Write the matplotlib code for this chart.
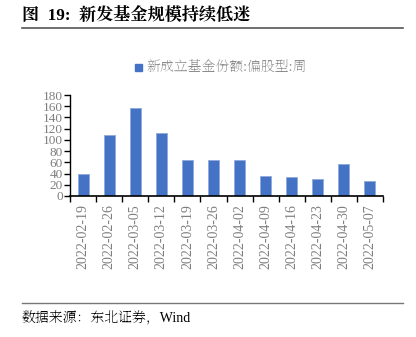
import matplotlib
matplotlib.use("Agg")
import matplotlib.pyplot as plt
from matplotlib.patches import Rectangle
from matplotlib.lines import Line2D

plt.rcParams['font.family'] = ['Liberation Serif', 'Noto Serif SC', 'DejaVu Sans']

categories = ["2022-02-19", "2022-02-26", "2022-03-05", "2022-03-12", "2022-03-19", "2022-03-26",
              "2022-04-02", "2022-04-09", "2022-04-16", "2022-04-23", "2022-04-30", "2022-05-07"]
values = [39, 108, 157, 113, 65, 65, 64, 36, 33, 30, 57, 26]
yticks = [0, 20, 40, 60, 80, 100, 120, 140, 160, 180]
title = "图  19:  新发基金规模持续低迷"
legend_label = "新成立基金份额:偏股型:周"
source = "数据来源：东北证券，Wind"

W, H = 416, 337
fig = plt.figure(figsize=(W/100, H/100), dpi=100)
ax = fig.add_axes([70/W, 1-196/H, (383-70)/W, (196-95)/H])

serif = ['Liberation Serif', 'Noto Serif SC', 'DejaVu Sans']
serif_bold = ['Liberation Serif', 'Noto Serif CJK JP', 'Noto Serif SC', 'DejaVu Sans']
bar_color = "#4472C4"
x = list(range(len(categories)))
ax.bar(x, values, width=0.42, color=bar_color, edgecolor="#8FAADC", linewidth=0.6)
ax.set_xlim(-0.5, len(categories)-0.5)
ax.set_ylim(0, 180)
ax.set_yticks(yticks)
ax.set_yticklabels([str(v) for v in yticks], fontsize=9.5, color="#7f7f7f", family=serif)
ax.set_xticks(x)
ax.set_xticklabels(categories, rotation=90, fontsize=10, color="#7f7f7f", family=serif)
ax.tick_params(axis='x', length=0, pad=6)
ax.set_xticks([i-0.5 for i in range(len(categories)+1)], minor=True)
ax.tick_params(axis='x', which='minor', length=4, width=1, color='black', direction='out')
ax.tick_params(axis='y', length=4, width=1, color='black', direction='out', pad=1)
for s in ['top', 'right']:
    ax.spines[s].set_visible(False)
ax.spines['left'].set_linewidth(1)
ax.spines['bottom'].set_linewidth(1.2)

# title
fig.text(22/W, 1-16/H, title, fontsize=12.3, fontweight='bold', va='center', ha='left', family=serif_bold)
fig.add_artist(Line2D([22/W, 403/W], [1-28/H, 1-28/H], color='#555555', linewidth=1.2))
# legend
fig.add_artist(Rectangle((135/W, 1-71/H), 7/W, 7/H, color=bar_color, transform=fig.transFigure))
fig.text(146/W, 1-67/H, legend_label, fontsize=10, color='#8c8c8c', va='center', ha='left', family=serif)
# footer
fig.add_artist(Line2D([22/W, 403/W], [1-303/H, 1-303/H], color='#777777', linewidth=1.0))
fig.text(22/W, 1-318/H, source, fontsize=10, color='black', va='center', ha='left', family=serif)

fig.savefig("out.png", dpi=100)
